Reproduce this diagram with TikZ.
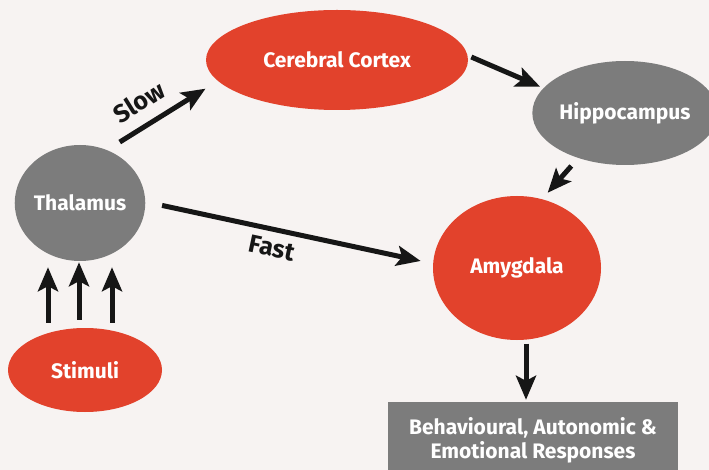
\documentclass[tikz,border=0pt]{standalone}
\usepackage{fontspec}
\setmainfont{Fira Sans}
\usetikzlibrary{shapes.geometric, arrows.meta}

\definecolor{brainred}{RGB}{226,66,44}
\definecolor{braingray}{RGB}{124,124,124}
\definecolor{paper}{RGB}{247,243,242}
\definecolor{ink}{RGB}{22,22,22}

\begin{document}
\begin{tikzpicture}[x=1pt, y=-1pt,
  region/.style={ellipse, inner sep=0pt, text=white, font=\bfseries\fontsize{21}{24}\selectfont},
  redregion/.style={region, fill=brainred},
  grayregion/.style={region, fill=braingray},
  arr/.style={line width=5pt, draw=ink, -{Stealth[length=24pt, width=20pt, inset=5pt]}},
  speed/.style={font=\bfseries\fontsize{25}{30}\selectfont, text=ink}]

\fill[paper] (0,0) rectangle (709,470);
\useasboundingbox (0,0) rectangle (709,470);
\clip (0,0) rectangle (709,470);

% regions
\node[redregion, minimum width=262pt, minimum height=100pt] (cortex) at (337,60) {Cerebral Cortex};
\node[grayregion, minimum width=172pt, minimum height=104pt] (hippo) at (625,113) {Hippocampus};
\node[grayregion, minimum width=130pt, minimum height=116pt] (thal) at (80,203) {Thalamus};
\node[redregion, minimum width=168pt, minimum height=144pt] (amyg) at (517,268) {Amygdala};
\node[redregion, minimum width=154pt, minimum height=84pt] (stim) at (85,370) {Stimuli};
\node[fill=braingray, text=white, font=\bfseries\fontsize{21}{24}\selectfont, align=center,
  minimum width=290pt, minimum height=76pt, inner sep=0pt] (resp) at (533,440)
  {Behavioural, Autonomic \&\\Emotional Responses};

% pathways
\draw[arr, shorten <=15pt, shorten >=14.5pt] (thal.63) -- (cortex.190);
\draw[arr, shorten <=4pt, shorten >=3.7pt] (cortex.2) -- (hippo.163);
\draw[arr, shorten <=10.5pt, shorten >=8.4pt] (hippo.224) -- (amyg.70);
\draw[arr, shorten <=17pt, shorten >=12.6pt] (thal.1) -- (amyg.177);
\draw[arr, shorten <=3.4pt, shorten >=2pt] ([xshift=9pt]amyg.south) -- ([xshift=9pt]amyg.south |- resp.north);
\foreach \dx/\lo/\hi in {-32/5/6, -1/8/1, 32/5/6}
  \draw[arr, shorten <=\lo pt, shorten >=\hi pt] ([xshift=\dx pt]thal.south |- stim.north) -- ([xshift=\dx pt]thal.south);

\node[speed, rotate=32] (slowlbl) at (139,102) {Slow};
\node[speed, rotate=-12] (fastlbl) at (272,248) {Fast};

\end{tikzpicture}
\end{document}
